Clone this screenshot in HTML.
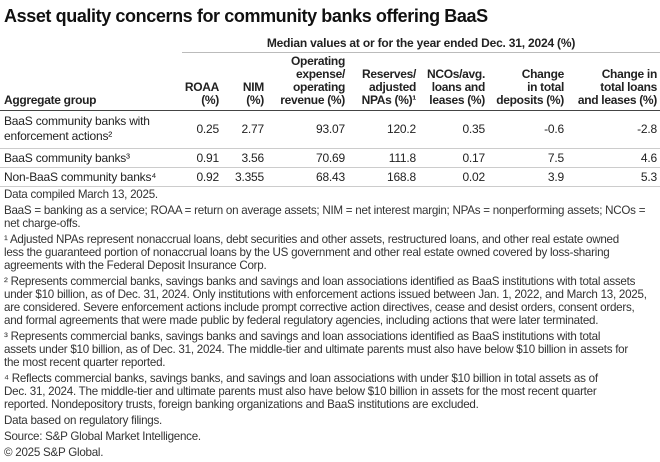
<!DOCTYPE html>
<html><head><meta charset="utf-8"><style>
body{margin:0;width:660px;height:460px;background:#fff;font-family:"Liberation Sans",sans-serif;color:#222;position:relative;overflow:hidden}
.a{position:absolute;white-space:nowrap}
#title{left:4px;top:6px;font-size:18px;font-weight:bold;letter-spacing:-0.4px;color:#111}
#sub{left:182px;width:478px;top:36px;text-align:center;font-size:12px;font-weight:bold;letter-spacing:-0.2px}
.rule{position:absolute;left:0;width:660px;height:1px;background:#ccc}
.hd{font-size:12px;font-weight:bold;text-align:right;line-height:13px;letter-spacing:-0.3px}
.c{font-size:12px;text-align:right;letter-spacing:-0.2px}
.rl{font-size:12px;left:4px;line-height:15px;letter-spacing:-0.2px}
#foot{position:absolute;left:4px;top:188px;font-size:11.6px;line-height:13px;letter-spacing:-0.25px;color:#333}
#foot p{margin:0 0 3px 0;white-space:nowrap}
</style></head><body>
<div class="a" id="title">Asset quality concerns for community banks offering BaaS</div>
<div class="a" id="sub">Median values at or for the year ended Dec. 31, 2024 (%)</div>
<div class="rule" style="left:182px;width:478px;top:52px;background:#bbb"></div>

<div class="a hd" style="left:4px;top:94px;text-align:left">Aggregate group</div>
<div class="a hd" style="right:441px;top:81px">ROAA<br>(%)</div>
<div class="a hd" style="right:396px;top:81px">NIM<br>(%)</div>
<div class="a hd" style="right:315px;top:55px">Operating<br>expense/<br>operating<br>revenue (%)</div>
<div class="a hd" style="right:244px;top:68px">Reserves/<br>adjusted<br>NPAs (%)¹</div>
<div class="a hd" style="right:175px;top:68px">NCOs/avg.<br>loans and<br>leases (%)</div>
<div class="a hd" style="right:96px;top:68px">Change<br>in total<br>deposits (%)</div>
<div class="a hd" style="right:3px;top:68px">Change in<br>total loans<br>and leases (%)</div>
<div class="rule" style="top:110px;background:#444"></div>

<div id="rows"></div>
<div class="rule" style="top:148px"></div>
<div class="rule" style="top:167px"></div>
<div class="rule" style="top:186px"></div>

<div id="foot">
<p>Data compiled March 13, 2025.</p>
<p>BaaS = banking as a service; ROAA = return on average assets; NIM = net interest margin; NPAs = nonperforming assets; NCOs =<br>net charge-offs.</p>
<p>¹ Adjusted NPAs represent nonaccrual loans, debt securities and other assets, restructured loans, and other real estate owned<br>less the guaranteed portion of nonaccrual loans by the US government and other real estate owned covered by loss-sharing<br>agreements with the Federal Deposit Insurance Corp.</p>
<p>² Represents commercial banks, savings banks and savings and loan associations identified as BaaS institutions with total assets<br>under $10 billion, as of Dec. 31, 2024. Only institutions with enforcement actions issued between Jan. 1, 2022, and March 13, 2025,<br>are considered. Severe enforcement actions include prompt corrective action directives, cease and desist orders, consent orders,<br>and formal agreements that were made public by federal regulatory agencies, including actions that were later terminated.</p>
<p>³ Represents commercial banks, savings banks and savings and loan associations identified as BaaS institutions with total<br>assets under $10 billion, as of Dec. 31, 2024. The middle-tier and ultimate parents must also have below $10 billion in assets for<br>the most recent quarter reported.</p>
<p>⁴ Reflects commercial banks, savings banks, and savings and loan associations with under $10 billion in total assets as of<br>Dec. 31, 2024. The middle-tier and ultimate parents must also have below $10 billion in assets for the most recent quarter<br>reported. Nondepository trusts, foreign banking organizations and BaaS institutions are excluded.</p>
<p>Data based on regulatory filings.</p>
<p>Source: S&amp;P Global Market Intelligence.</p>
<p>© 2025 S&amp;P Global.</p>
</div>

<script>
const groups = ["BaaS community banks with<br>enforcement actions²", "BaaS community banks³", "Non-BaaS community banks⁴"];
const roaa = ["0.25", "0.91", "0.92"];
const nim = ["2.77", "3.56", "3.355"];
const opex = ["93.07", "70.69", "68.43"];
const reserves = ["120.2", "111.8", "168.8"];
const ncos = ["0.35", "0.17", "0.02"];
const deposits = ["-0.6", "7.5", "3.9"];
const loans = ["-2.8", "4.6", "5.3"];
const cols = [roaa, nim, opex, reserves, ncos, deposits, loans];
const colRight = [441, 396, 315, 244, 175, 96, 3];
const colNames = ["roaa", "nim", "opex", "reserves", "ncos", "deposits", "loans"];
const rowTop = [114, 151, 170];
const rowValTop = [122, 151, 170];
const host = document.getElementById('rows');
groups.forEach((g, i) => {
  const l = document.createElement('div');
  l.className = 'a rl';
  l.style.top = rowTop[i] + 'px';
  l.innerHTML = g;
  
  
  host.appendChild(l);
  cols.forEach((c, j) => {
    const d = document.createElement('div');
    d.className = 'a c';
    d.style.top = rowValTop[i] + 'px';
    d.style.right = colRight[j] + 'px';
    d.textContent = c[i];
    
    
    host.appendChild(d);
  });
});
</script>
</body></html>
